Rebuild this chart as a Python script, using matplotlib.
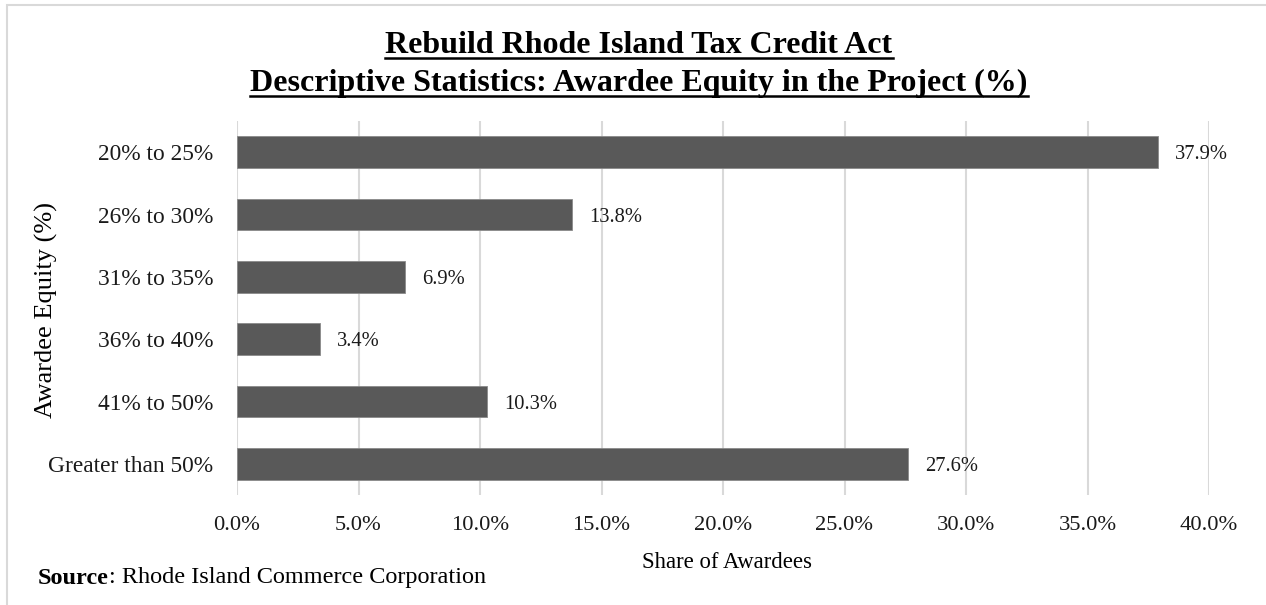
import matplotlib.pyplot as plt
from matplotlib.lines import Line2D
from matplotlib.patches import Rectangle

categories = ["20% to 25%", "26% to 30%", "31% to 35%", "36% to 40%", "41% to 50%", "Greater than 50%"]
shares = [37.9, 13.8, 6.9, 3.4, 10.3, 27.6]
x_ticks = [0, 5, 10, 15, 20, 25, 30, 35, 40]

title_lines = ["Rebuild Rhode Island Tax Credit Act",
               "Descriptive Statistics: Awardee Equity in the Project (%)"]

plt.rcParams['font.family'] = ['Liberation Serif', 'DejaVu Serif']

W, H = 1266, 605
fig = plt.figure(figsize=(W / 100, H / 100), dpi=100)

# thin grey frame along the top and left edges
fig.patches.append(Rectangle((7 / W, -0.05), 1.1, 1 - 5 / H + 0.05, transform=fig.transFigure,
                             fill=False, edgecolor="#d9d9d9", linewidth=1.5))

ax = fig.add_axes([237 / W, 1 - 495 / H, (1209 - 237) / W, (495 - 121) / H])

ypos = list(range(len(categories)))
ax.barh(ypos, shares, height=0.51, color="#595959", edgecolor="#8a8a8a", linewidth=0.6, zorder=3)
for y, v in zip(ypos, shares):
    ax.text(v + 0.7, y, f"{v:.1f}%", va="center_baseline", ha="left", fontsize=14.8, color="#1a1a1a")

ax.set_ylim(len(categories) - 0.5, -0.5)
ax.set_xlim(0, 40)
ax.set_yticks(ypos)
ax.set_yticklabels(categories, fontsize=16.8, color="#1a1a1a")
ax.set_xticks(x_ticks)
ax.set_xticklabels([f"{t:.1f}%" for t in x_ticks], fontsize=16.2, color="#1a1a1a")
ax.tick_params(axis="both", length=0)
ax.tick_params(axis="y", pad=17)
ax.tick_params(axis="x", pad=15)
ax.grid(axis="x", color="#d9d9d9", linewidth=1.5, zorder=0)
for s in ax.spines.values():
    s.set_visible(False)

fig.text(727 / W, 1 - 562 / H, "Share of Awardees", ha="center", va="center", fontsize=16.4)
fig.text(46 / W, 1 - 310 / H, "Awardee Equity (%)", ha="center", va="center", rotation=90, fontsize=19)

renderer = fig.canvas.get_renderer()
src = fig.text(38 / W, 1 - 578 / H, "Source", ha="left", va="center", fontsize=17.5, fontweight="bold")
sx = src.get_window_extent(renderer).x1
fig.text(sx / W, 1 - 578 / H, ": Rhode Island Commerce Corporation", ha="left", va="center", fontsize=17.5)

# underlined, bold two-line title
for line, base in zip(title_lines, [53, 91]):
    t = fig.text(0.5 + 6 / W, 1 - base / H, line, ha="center", va="baseline",
                 fontsize=23, fontweight="bold")
    bb = t.get_window_extent(renderer)
    fig.lines.append(Line2D([bb.x0 / W, bb.x1 / W], [1 - (base + 5) / H] * 2,
                            transform=fig.transFigure, color="black", linewidth=1.8))

fig.savefig("out.png", dpi=100)
